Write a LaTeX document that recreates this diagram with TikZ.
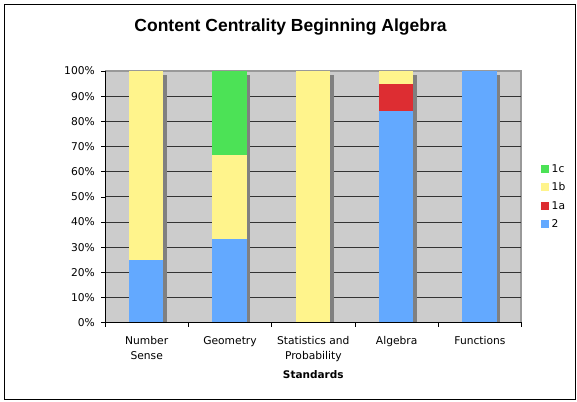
\documentclass[tikz,border=0pt]{standalone}
\usepackage{fontspec}
\setmainfont{DejaVu Sans}
\newfontfamily\titlefont{Liberation Sans}
\usepackage{tikz}
\definecolor{bartwo}{RGB}{99,169,255}
\definecolor{baroneb}{RGB}{255,244,140}
\definecolor{baronea}{RGB}{221,45,50}
\definecolor{baronec}{RGB}{76,226,86}
\definecolor{wallgray}{RGB}{204,204,204}
\definecolor{sidegray}{RGB}{128,128,128}
\newcommand{\lblfont}{\fontsize{10.7}{15}\selectfont}

\begin{document}
\begin{tikzpicture}[x=1pt,y=-1pt,
		grid/.style={black!80,line width=0.9pt},
		side/.style={fill=sidegray},
		lbl/.style={font=\lblfont,inner sep=0pt},
		key/.style={minimum size=8pt,inner sep=0pt}]
			\useasboundingbox (0,0) rectangle (577,401);
			\draw[line width=1.2pt] (4.5,4.5) rectangle (575.5,399.5);
			\node[font=\titlefont\bfseries\fontsize{17.5}{20}\selectfont,anchor=base,inner sep=0pt] (title) at (290.5,31.5) {Content Centrality Beginning Algebra};
			
			% back wall and grid
			\fill[wallgray] (105,71) rectangle (521.7,322.7);
			\draw[black!40,line width=1.5pt] (105,71.2) -- (521,71.2) -- (521,322.7);
			\draw[grid] (105,297.5) -- (521,297.5);
			\draw[grid] (105,272.4) -- (521,272.4);
			\draw[grid] (105,247.2) -- (521,247.2);
			\draw[grid] (105,222.0) -- (521,222.0);
			\draw[grid] (105,196.9) -- (521,196.9);
			\draw[grid] (105,171.7) -- (521,171.7);
			\draw[grid] (105,146.5) -- (521,146.5);
			\draw[grid] (105,121.3) -- (521,121.3);
			\draw[grid] (105,96.2) -- (521,96.2);
			
			% Number Sense
			\fill[side] (163.3,75) rectangle (166.8,322.7);
			\fill[bartwo] (129,322.7) rectangle (163.3,259.8);
			\fill[baroneb] (129,259.8) rectangle (163.3,71);
			% Geometry
			\fill[side] (246.6,75) rectangle (250.1,322.7);
			\fill[bartwo] (212.3,322.7) rectangle (246.6,238.8);
			\fill[baroneb] (212.3,238.8) rectangle (246.6,154.9);
			\fill[baronec] (212.3,154.9) rectangle (246.6,71);
			% Statistics and Probability
			\fill[side] (330,75) rectangle (333.5,322.7);
			\fill[baroneb] (295.7,322.7) rectangle (330,71);
			% Algebra
			\fill[side] (413.3,75) rectangle (416.8,322.7);
			\fill[bartwo] (379,322.7) rectangle (413.3,110.7);
			\fill[baronea] (379,110.7) rectangle (413.3,84.2);
			\fill[baroneb] (379,84.2) rectangle (413.3,71);
			% Functions
			\fill[side] (496.6,75) rectangle (500.1,322.7);
			\fill[bartwo] (462.3,322.7) rectangle (496.6,71);
			
			% axes
			\draw[line width=1pt] (105,71) -- (105,322.7) -- (521.7,322.7);
			\draw[line width=0.8pt] (101,71) -- (105,71) (101,96.2) -- (105,96.2) (101,121.3) -- (105,121.3)
				(101,146.5) -- (105,146.5) (101,171.7) -- (105,171.7) (101,196.9) -- (105,196.9)
				(101,222.0) -- (105,222.0) (101,247.2) -- (105,247.2) (101,272.4) -- (105,272.4)
				(101,297.5) -- (105,297.5) (101,322.7) -- (105,322.7);
			\draw[line width=0.8pt] (105,322.7) -- (105,327) (188.3,322.7) -- (188.3,327) (271.7,322.7) -- (271.7,327)
				(355,322.7) -- (355,327) (438.3,322.7) -- (438.3,327) (521.7,322.7) -- (521.7,327);
			
			\node[lbl,anchor=east] (t100) at (95,71) {100\%};
			\node[lbl,anchor=east] (t90) at (95,96.2) {90\%};
			\node[lbl,anchor=east] (t80) at (95,121.3) {80\%};
			\node[lbl,anchor=east] (t70) at (95,146.5) {70\%};
			\node[lbl,anchor=east] (t60) at (95,171.7) {60\%};
			\node[lbl,anchor=east] (t50) at (95,196.9) {50\%};
			\node[lbl,anchor=east] (t40) at (95,222.0) {40\%};
			\node[lbl,anchor=east] (t30) at (95,247.2) {30\%};
			\node[lbl,anchor=east] (t20) at (95,272.4) {20\%};
			\node[lbl,anchor=east] (t10) at (95,297.5) {10\%};
			\node[lbl,anchor=east] (t0) at (95,322.7) {0\%};
			
			\node[lbl,anchor=north,align=center] (numsense) at (146.7,336) {Number\\Sense};
			\node[lbl,anchor=north,align=center] (geometry) at (230,336) {Geometry};
			\node[lbl,anchor=north,align=center] (statprob) at (313.3,336) {Statistics and\\Probability};
			\node[lbl,anchor=north,align=center] (algebra) at (396.7,336) {Algebra};
			\node[lbl,anchor=north,align=center] (functions) at (480,336) {Functions};
			\node[lbl,font=\fontsize{10.5}{13}\selectfont\bfseries,anchor=base] (standards) at (313.3,378) {Standards};
			
			% legend
			\node[key,fill=baronec] (k1c) at (545,168.5) {};
			\node[key,fill=baroneb] (k1b) at (545,187) {};
			\node[key,fill=baronea] (k1a) at (545,205.5) {};
			\node[key,fill=bartwo] (k2) at (545,224) {};
			\node[lbl,anchor=west] (l1c) at (551.5,168.5) {1c};
			\node[lbl,anchor=west] (l1b) at (551.5,187) {1b};
			\node[lbl,anchor=west] (l1a) at (551.5,205.5) {1a};
			\node[lbl,anchor=west] (l2) at (551.5,224) {2};
			
		\end{tikzpicture}
\end{document}
